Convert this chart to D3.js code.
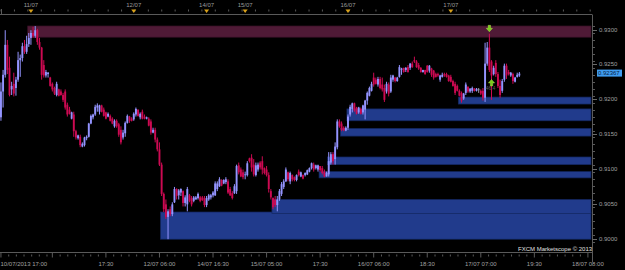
<!DOCTYPE html>
<html>
<head>
<meta charset="utf-8">
<script src="https://d3js.org/d3.v7.min.js"></script>
<style>
body { margin: 0; background: #000; }
svg { display: block; }
text { font-family: "Liberation Sans", Arial, sans-serif; font-size: 6px; }
</style>
</head>
<body>
<script>

// 30 minute candles, starting 10/07/2013 17:00
var opens = [
  0.9174,0.9211,0.9235,0.9278,0.9245,0.9214,0.9222,0.9216,0.9228,0.9256,
  0.9259,0.9276,0.9268,0.9279,0.9288,0.9295,0.9291,0.9299,0.9282,0.9274,
  0.9249,0.9234,0.9236,0.9231,0.9222,0.9216,0.9206,0.9214,0.9211,0.9206,
  0.9211,0.9192,0.9185,0.9172,0.9178,0.9154,0.9144,0.9146,0.9132,0.9134,
  0.9144,0.9146,0.9165,0.9174,0.9178,0.9188,0.9182,0.9191,0.9185,0.9181,
  0.9175,0.9176,0.9172,0.9161,0.9169,0.9164,0.9156,0.9145,0.9151,0.9166,
  0.9175,0.9172,0.9171,0.9178,0.9185,0.9174,0.9182,0.9175,0.9172,0.9172,
  0.9168,0.9152,0.9156,0.9142,0.9128,0.9106,0.9064,0.9049,0.9031,0.9042,
  0.9035,0.9052,0.9071,0.9062,0.9066,0.9068,0.9051,0.9049,0.9062,0.9058,
  0.9054,0.9056,0.9058,0.9059,0.9059,0.9058,0.9048,0.9056,0.9059,0.9062,
  0.9062,0.9071,0.9075,0.9084,0.9079,0.9081,0.9082,0.9071,0.9065,0.9065,
  0.9068,0.9105,0.9099,0.9095,0.9091,0.9091,0.9115,0.9116,0.9106,0.9091,
  0.9099,0.9109,0.9111,0.9101,0.9099,0.9091,0.9068,0.9058,0.9056,0.9048,
  0.9056,0.9064,0.9074,0.9082,0.9095,0.9082,0.9091,0.9088,0.9084,0.9096,
  0.9089,0.9091,0.9091,0.9092,0.9096,0.9101,0.9106,0.9101,0.9099,0.9104,
  0.9101,0.9096,0.9089,0.9092,0.9109,0.9121,0.9114,0.9131,0.9168,0.9165,
  0.9159,0.9155,0.9159,0.9178,0.9186,0.9194,0.9188,0.9181,0.9186,0.9181,
  0.9185,0.9198,0.9205,0.9212,0.9231,0.9228,0.9221,0.9229,0.9221,0.9216,
  0.9211,0.9221,0.9211,0.9228,0.9231,0.9226,0.9232,0.9242,0.9245,0.9242,
  0.9246,0.9245,0.9251,0.9256,0.9254,0.9249,0.9245,0.9239,0.9242,0.9248,
  0.9241,0.9244,0.9241,0.9236,0.9236,0.9228,0.9232,0.9236,0.9236,0.9234,
  0.9232,0.9226,0.9222,0.9219,0.9212,0.9209,0.9201,0.9209,0.9218,0.9211,
  0.9212,0.9215,0.9212,0.9214,0.9212,0.9212,0.9202,0.9251,0.9274,0.9254,
  0.9236,0.9252,0.9236,0.9219,0.9212,0.9228,0.9248,0.9239,0.9234,0.9236,
  0.9225,0.9232,0.9234
];
var highs = [
  0.9224,0.9242,0.9299,0.9285,0.9261,0.9225,0.9238,0.9232,0.9268,0.9264,
  0.9281,0.9285,0.9291,0.9295,0.9299,0.9304,0.9305,0.9301,0.9288,0.9275,
  0.9256,0.9242,0.9239,0.9232,0.9224,0.9218,0.9225,0.9215,0.9214,0.9209,
  0.9214,0.9195,0.9189,0.9182,0.9182,0.9156,0.9149,0.9149,0.9138,0.9146,
  0.9148,0.9166,0.9178,0.9179,0.9192,0.9194,0.9192,0.9192,0.9188,0.9182,
  0.9181,0.9178,0.9174,0.9171,0.9171,0.9166,0.9161,0.9156,0.9168,0.9178,
  0.9176,0.9174,0.9181,0.9188,0.9185,0.9181,0.9185,0.9178,0.9175,0.9174,
  0.9171,0.9159,0.9159,0.9145,0.9138,0.9109,0.9066,0.9056,0.9042,0.9046,
  0.9052,0.9074,0.9072,0.9071,0.9072,0.9069,0.9062,0.9074,0.9064,0.9061,
  0.9061,0.9061,0.9066,0.9061,0.9061,0.9061,0.9061,0.9064,0.9064,0.9068,
  0.9082,0.9082,0.9088,0.9085,0.9085,0.9088,0.9085,0.9074,0.9068,0.9078,
  0.9106,0.9109,0.9102,0.9099,0.9096,0.9111,0.9116,0.9121,0.9114,0.9109,
  0.9109,0.9111,0.9118,0.9102,0.9104,0.9095,0.9071,0.9059,0.9061,0.9061,
  0.9071,0.9081,0.9085,0.9102,0.9096,0.9096,0.9092,0.9089,0.9092,0.9099,
  0.9096,0.9092,0.9095,0.9099,0.9102,0.9109,0.9109,0.9106,0.9106,0.9104,
  0.9104,0.9099,0.9096,0.9124,0.9124,0.9124,0.9138,0.9171,0.9171,0.9168,
  0.9161,0.9161,0.9178,0.9192,0.9195,0.9195,0.9189,0.9189,0.9188,0.9192,
  0.9199,0.9211,0.9218,0.9225,0.9238,0.9231,0.9232,0.9232,0.9231,0.9221,
  0.9225,0.9224,0.9235,0.9235,0.9232,0.9232,0.9249,0.9245,0.9245,0.9246,
  0.9249,0.9252,0.9254,0.9261,0.9256,0.9252,0.9246,0.9242,0.9242,0.9249,
  0.9249,0.9245,0.9242,0.9238,0.9238,0.9235,0.9238,0.9238,0.9238,0.9235,
  0.9235,0.9228,0.9225,0.9221,0.9214,0.9211,0.9209,0.9224,0.9218,0.9216,
  0.9218,0.9216,0.9216,0.9216,0.9214,0.9216,0.9281,0.9282,0.9294,0.9256,
  0.9248,0.9256,0.9239,0.9228,0.9229,0.9251,0.9251,0.9242,0.9239,0.9238,
  0.9232,0.9238,0.9239
];
var lows = [
  0.9169,0.9188,0.9231,0.9236,0.9204,0.9206,0.9204,0.9205,0.9225,0.9232,
  0.9254,0.9265,0.9265,0.9275,0.9278,0.9288,0.9288,0.9278,0.9271,0.9228,
  0.9231,0.9231,0.9231,0.9218,0.9211,0.9206,0.9204,0.9204,0.9205,0.9196,
  0.9185,0.9175,0.9178,0.9171,0.9146,0.9142,0.9142,0.9131,0.9131,0.9132,
  0.9141,0.9145,0.9164,0.9171,0.9176,0.9182,0.9178,0.9181,0.9175,0.9171,
  0.9174,0.9168,0.9164,0.9159,0.9159,0.9146,0.9135,0.9142,0.9146,0.9165,
  0.9166,0.9168,0.9169,0.9175,0.9175,0.9171,0.9171,0.9171,0.9171,0.9161,
  0.9149,0.9151,0.9138,0.9125,0.9104,0.9061,0.9038,0.9028,0.8999,0.9032,
  0.9032,0.9051,0.9056,0.9056,0.9061,0.9046,0.9046,0.9039,0.9052,0.9046,
  0.9052,0.9056,0.9056,0.9052,0.9054,0.9045,0.9045,0.9054,0.9056,0.9059,
  0.9061,0.9068,0.9074,0.9075,0.9078,0.9078,0.9064,0.9061,0.9056,0.9064,
  0.9064,0.9092,0.9088,0.9085,0.9085,0.9089,0.9109,0.9096,0.9089,0.9089,
  0.9096,0.9099,0.9092,0.9092,0.9089,0.9066,0.9056,0.9042,0.9045,0.9039,
  0.9054,0.9061,0.9071,0.9081,0.9082,0.9078,0.9082,0.9082,0.9082,0.9089,
  0.9088,0.9085,0.9089,0.9091,0.9095,0.9099,0.9096,0.9099,0.9096,0.9096,
  0.9092,0.9088,0.9089,0.9089,0.9106,0.9106,0.9106,0.9128,0.9159,0.9154,
  0.9154,0.9154,0.9156,0.9175,0.9181,0.9182,0.9178,0.9179,0.9178,0.9178,
  0.9171,0.9192,0.9204,0.9211,0.9218,0.9221,0.9218,0.9214,0.9211,0.9196,
  0.9208,0.9204,0.9209,0.9225,0.9224,0.9225,0.9231,0.9235,0.9238,0.9239,
  0.9238,0.9242,0.9245,0.9252,0.9245,0.9242,0.9238,0.9238,0.9235,0.9238,
  0.9238,0.9232,0.9228,0.9231,0.9232,0.9225,0.9231,0.9232,0.9231,0.9225,
  0.9224,0.9218,0.9206,0.9211,0.9204,0.9195,0.9199,0.9206,0.9209,0.9209,
  0.9209,0.9211,0.9211,0.9209,0.9206,0.9198,0.9196,0.9248,0.9239,0.9199,
  0.9234,0.9232,0.9216,0.9202,0.9209,0.9225,0.9229,0.9234,0.9232,0.9222,
  0.9224,0.9231,0.9232
];
var closes = [
  0.9211,0.9235,0.9278,0.9242,0.9206,0.9219,0.9208,0.9228,0.9256,0.9259,
  0.9276,0.9268,0.9279,0.9288,0.9295,0.9291,0.9299,0.9282,0.9274,0.9235,
  0.9234,0.9239,0.9238,0.9219,0.9214,0.9208,0.9222,0.9205,0.9206,0.9199,
  0.9188,0.9178,0.9179,0.9181,0.9154,0.9145,0.9148,0.9134,0.9136,0.9145,
  0.9146,0.9165,0.9176,0.9178,0.9189,0.9191,0.9191,0.9182,0.9176,0.9172,
  0.9179,0.9169,0.9165,0.9169,0.9161,0.9149,0.9138,0.9152,0.9166,0.9176,
  0.9169,0.9169,0.9179,0.9186,0.9176,0.9179,0.9172,0.9172,0.9174,0.9162,
  0.9152,0.9156,0.9142,0.9128,0.9106,0.9064,0.9042,0.9031,0.9039,0.9035,
  0.9049,0.9071,0.9061,0.9069,0.9071,0.9051,0.9059,0.9071,0.9054,0.9049,
  0.9059,0.9059,0.9064,0.9054,0.9055,0.9048,0.9058,0.9062,0.9062,0.9066,
  0.9079,0.9079,0.9085,0.9076,0.9084,0.9085,0.9066,0.9062,0.9058,0.9075,
  0.9104,0.9095,0.9089,0.9088,0.9092,0.9108,0.9111,0.9102,0.9092,0.9105,
  0.9106,0.9102,0.9099,0.9094,0.9091,0.9071,0.9059,0.9045,0.9048,0.9056,
  0.9068,0.9078,0.9082,0.9099,0.9085,0.9094,0.9085,0.9084,0.9091,0.9091,
  0.9095,0.9086,0.9094,0.9098,0.9101,0.9108,0.9099,0.9105,0.9105,0.9098,
  0.9094,0.9089,0.9094,0.9111,0.9121,0.9111,0.9132,0.9168,0.9161,0.9156,
  0.9155,0.9159,0.9175,0.9189,0.9194,0.9184,0.9179,0.9188,0.9179,0.9191,
  0.9198,0.9209,0.9216,0.9222,0.9221,0.9222,0.9229,0.9216,0.9214,0.9199,
  0.9222,0.9208,0.9231,0.9234,0.9226,0.9231,0.9246,0.9244,0.9239,0.9245,
  0.9239,0.9251,0.9246,0.9254,0.9246,0.9244,0.9239,0.9242,0.9236,0.9239,
  0.9248,0.9235,0.9231,0.9232,0.9234,0.9234,0.9235,0.9234,0.9232,0.9226,
  0.9225,0.9219,0.9209,0.9212,0.9205,0.9198,0.9208,0.9221,0.9211,0.9215,
  0.9216,0.9212,0.9215,0.9214,0.9208,0.9202,0.9251,0.9274,0.9242,0.9234,
  0.9245,0.9236,0.9219,0.9206,0.9226,0.9248,0.9234,0.9236,0.9238,0.9226,
  0.9231,0.9235,0.92367
];

// supply / demand zones: first bar, top and bottom price
var zoneStart  = [13, 75, 127, 149, 153, 159, 162, 214];
var zoneTop    = [0.9305, 0.9038, 0.9056, 0.9096, 0.9117, 0.9158, 0.9186, 0.9203];
var zoneBottom = [0.9289, 0.8999, 0.9036, 0.9087, 0.9106, 0.9147, 0.9169, 0.9193];
var zoneKind   = ["supply", "demand", "demand", "demand", "demand", "demand", "demand", "demand"];

// time axis (bar index) and labels
var xTickIdx = [0, 24, 49, 74, 99, 124, 149, 174, 199, 224, 249, 274];
var xTickLabels = ["10/07/2013 17:00", "", "17:30", "12/07 06:00", "14/07 16:30", "15/07 05:00",
                   "17:30", "16/07 06:00", "18:30", "17/07 07:00", "19:30", "18/07 08:00"];
var dayIdx = [14, 62, 96, 114, 162, 210];
var dayLabels = ["11/07", "12/07", "14/07", "15/07", "16/07", "17/07"];
var priceTicks = [0.9000, 0.9050, 0.9100, 0.9150, 0.9200, 0.9250, 0.9300];

// signal arrows
var signalIdx = [228, 229];
var signalPrice = [0.9301, 0.9224];
var signalDir = ["down", "up"];
var signalNote = "46.4";

var nBars = 276,
    plotRight = 591,
    axisX = 592;

var x = d3.scaleBand()
    .domain(d3.range(nBars))
    .range([0, plotRight])
    .paddingInner(0.12);
var y = d3.scaleLinear()
    .domain([0.90, 0.93])
    .range([238.5, 29.5]);
var step = x.step();

function xc(i) { return x(i) + x.bandwidth() / 2; }

var bull = "#9494ff", bear = "#cc0a52";

var svg = d3.select("body").append("svg")
    .attr("width", 625)
    .attr("height", 270)
    .style("background", "#000");

// zones
svg.selectAll(".zone")
    .data(zoneStart)
    .enter().append("rect")
    .attr("class", "zone")
    .attr("x", function(d) { return x(d) - step * 0.06; })
    .attr("y", function(d, i) { return y(zoneTop[i]); })
    .attr("width", function(d) { return plotRight - x(d) + step * 0.06; })
    .attr("height", function(d, i) { return y(zoneBottom[i]) - y(zoneTop[i]); })
    .attr("fill", function(d, i) { return zoneKind[i] == "supply" ? "#4f1a36" : "#213b8c"; })
    .attr("stroke", function(d, i) { return zoneKind[i] == "supply" ? "#3a1227" : "#132760"; })
    .attr("stroke-width", 0.7);

// candles
var bars = d3.range(closes.length);
function col(i) {
    if (closes[i] > opens[i]) return bull;
    if (closes[i] < opens[i]) return bear;
    return "#9a9aaa";
}

svg.selectAll(".wick")
    .data(bars)
    .enter().append("line")
    .attr("class", "wick")
    .attr("x1", function(i) { return xc(i); })
    .attr("x2", function(i) { return xc(i); })
    .attr("y1", function(i) { return y(highs[i]); })
    .attr("y2", function(i) { return y(lows[i]); })
    .attr("stroke", col)
    .attr("stroke-width", 1);

svg.selectAll(".body")
    .data(bars)
    .enter().append("rect")
    .attr("class", "body")
    .attr("x", function(i) { return x(i); })
    .attr("width", x.bandwidth())
    .attr("y", function(i) { return y(Math.max(opens[i], closes[i])); })
    .attr("height", function(i) { return Math.max(0.8, Math.abs(y(opens[i]) - y(closes[i]))); })
    .attr("fill", col);

// signal arrows
function arrowPath(cx, cy, dir) {
    var s = dir == "down" ? 1 : -1;
    return "M" + (cx - 1.2) + "," + (cy - 3.5 * s) +
        "h2.4v" + (3 * s) + "h1.9l-3.1," + (3.5 * s) + "l-3.1," + (-3.5 * s) + "h1.9z";
}
svg.selectAll(".signal")
    .data(signalIdx)
    .enter().append("path")
    .attr("class", "signal")
    .attr("d", function(d, i) { return arrowPath(xc(d), y(signalPrice[i]), signalDir[i]); })
    .attr("fill", "#78cc1c")
    .attr("stroke", "#c6ea5a")
    .attr("stroke-width", 0.4);

svg.append("text")
    .attr("x", xc(signalIdx[1]) - 1)
    .attr("y", y(signalPrice[1]) + 8)
    .attr("text-anchor", "middle")
    .attr("fill", "#5c5c5c")
    .style("font-size", "5px")
    .text(signalNote);

// top day strip
svg.append("line")
    .attr("x1", 0).attr("x2", axisX)
    .attr("y1", 14.5).attr("y2", 14.5)
    .attr("stroke", "#5a5a5a");
svg.append("line")
    .attr("x1", 1.5).attr("x2", 1.5)
    .attr("y1", 9).attr("y2", 14.5)
    .attr("stroke", "#5a5a5a");
var topTicks = d3.range(0, nBars, 25 / 4);
svg.selectAll(".ttick")
    .data(topTicks)
    .enter().append("line")
    .attr("class", "ttick")
    .attr("x1", function(d) { return d * step + step / 2; })
    .attr("x2", function(d) { return d * step + step / 2; })
    .attr("y1", 9.5)
    .attr("y2", 11.5)
    .attr("stroke", "#5a5a5a");

svg.selectAll(".daymark")
    .data(dayIdx)
    .enter().append("path")
    .attr("class", "daymark")
    .attr("d", function(d) {
        var cx = xc(d);
        return "M" + (cx - 2.5) + ",9.5h5l-2.5,3.5z";
    })
    .attr("fill", "#d9a21b");

svg.selectAll(".daylabel")
    .data(dayIdx)
    .enter().append("text")
    .attr("class", "daylabel")
    .attr("x", function(d) { return xc(d); })
    .attr("y", 6.5)
    .attr("text-anchor", "middle")
    .attr("fill", "#9a9a9a")
    .text(function(d, i) { return dayLabels[i]; });

// bottom time axis
svg.append("line")
    .attr("x1", 0).attr("x2", axisX)
    .attr("y1", 252.5).attr("y2", 252.5)
    .attr("stroke", "#5a5a5a");
var minorTicks = [];
xTickIdx.forEach(function(t) {
    for (var k = 1; k < 7; k++) minorTicks.push(t + k * 25 / 7);
});
svg.selectAll(".mtick")
    .data(minorTicks.filter(function(d) { return d < nBars - 1; }))
    .enter().append("line")
    .attr("class", "mtick")
    .attr("x1", function(d) { return d * step + step / 2; })
    .attr("x2", function(d) { return d * step + step / 2; })
    .attr("y1", 254.5)
    .attr("y2", 256.5)
    .attr("stroke", "#5a5a5a");
svg.selectAll(".xtick")
    .data(xTickIdx)
    .enter().append("line")
    .attr("class", "xtick")
    .attr("x1", function(d) { return Math.max(0.5, xc(d)); })
    .attr("x2", function(d) { return Math.max(0.5, xc(d)); })
    .attr("y1", 252.5)
    .attr("y2", 257.5)
    .attr("stroke", "#5a5a5a");
svg.selectAll(".xlabel")
    .data(xTickIdx)
    .enter().append("text")
    .attr("class", "xlabel")
    .attr("x", function(d, i) { return i == 0 ? 0.5 : xc(d); })
    .attr("y", 265.5)
    .attr("text-anchor", function(d, i) { return i == 0 ? "start" : "middle"; })
    .attr("fill", "#a0a0a0")
    .text(function(d, i) { return xTickLabels[i]; });

// right price axis
svg.append("line")
    .attr("x1", axisX + 0.5).attr("x2", axisX + 0.5)
    .attr("y1", 14.5).attr("y2", 262)
    .attr("stroke", "#5a5a5a");
svg.selectAll(".ytick")
    .data(d3.range(0.8995, 0.9311, 0.001))
    .enter().append("line")
    .attr("class", "ytick")
    .attr("x1", axisX + 0.5)
    .attr("x2", axisX + 3)
    .attr("y1", function(d) { return Math.round(y(d)) + 0.5; })
    .attr("y2", function(d) { return Math.round(y(d)) + 0.5; })
    .attr("stroke", "#5a5a5a");
svg.selectAll(".ymajor")
    .data(priceTicks)
    .enter().append("line")
    .attr("class", "ymajor")
    .attr("x1", axisX + 0.5)
    .attr("x2", axisX + 5)
    .attr("y1", function(d) { return Math.round(y(d)) + 0.5; })
    .attr("y2", function(d) { return Math.round(y(d)) + 0.5; })
    .attr("stroke", "#6a6a6a");
svg.selectAll(".ylabel")
    .data(priceTicks)
    .enter().append("text")
    .attr("class", "ylabel")
    .attr("x", 599)
    .attr("y", function(d) { return y(d) + 2; })
    .attr("fill", "#a0a0a0")
    .text(function(d) { return d3.format(".4f")(d); });

// last price marker
var last = closes[closes.length - 1];
svg.append("rect")
    .attr("x", 597)
    .attr("y", y(last) - 4)
    .attr("width", 25)
    .attr("height", 7)
    .attr("fill", "#3f9cf0");
svg.append("text")
    .attr("x", 598)
    .attr("y", y(last) + 1.8)
    .attr("fill", "#06213f")
    .text(d3.format(".5f")(last));

// copyright
svg.append("text")
    .attr("x", 518)
    .attr("y", 251)
    .attr("fill", "#e0e0e0")
    .text("FXCM Marketscope \u00a9 2013");

</script>
</body>
</html>
